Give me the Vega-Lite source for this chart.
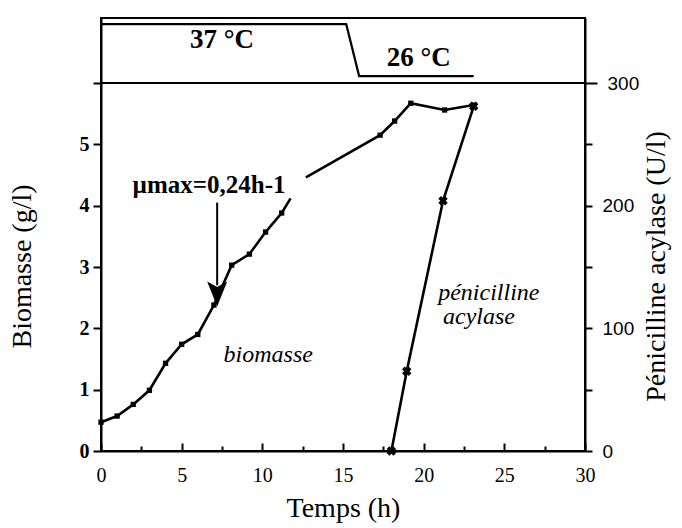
{
  "$schema": "https://vega.github.io/schema/vega-lite/v6.json",
  "width": 484,
  "height": 433,
  "autosize": "none",
  "padding": {"left": 101, "top": 18, "right": 97, "bottom": 77},
  "background": "white",
  "config": {
    "view": {"stroke": "black", "strokeWidth": 2},
    "font": "Liberation Serif",
    "axis": {"domainColor": "black", "domainWidth": 2, "tickColor": "black", "tickWidth": 2, "labelColor": "black", "titleColor": "black", "grid": false, "titleFontWeight": "normal", "zindex": 1}
  },
  "datasets": {
    "biomasse": [
      {"t": 0, "biomasse": 0.47, "seg": "a", "mesure": true},
      {"t": 1, "biomasse": 0.57, "seg": "a", "mesure": true},
      {"t": 2, "biomasse": 0.76, "seg": "a", "mesure": true},
      {"t": 3, "biomasse": 0.99, "seg": "a", "mesure": true},
      {"t": 4, "biomasse": 1.43, "seg": "a", "mesure": true},
      {"t": 5, "biomasse": 1.74, "seg": "a", "mesure": true},
      {"t": 6, "biomasse": 1.9, "seg": "a", "mesure": true},
      {"t": 7, "biomasse": 2.38, "seg": "a", "mesure": true},
      {"t": 8.1, "biomasse": 3.03, "seg": "a", "mesure": true},
      {"t": 9.2, "biomasse": 3.21, "seg": "a", "mesure": true},
      {"t": 10.2, "biomasse": 3.57, "seg": "a", "mesure": true},
      {"t": 11.2, "biomasse": 3.88, "seg": "a", "mesure": true},
      {"t": 11.75, "biomasse": 4.12, "seg": "a", "mesure": false},
      {"t": 12.7, "biomasse": 4.46, "seg": "b", "mesure": false},
      {"t": 17.3, "biomasse": 5.15, "seg": "b", "mesure": true},
      {"t": 18.2, "biomasse": 5.38, "seg": "b", "mesure": true},
      {"t": 19.2, "biomasse": 5.67, "seg": "b", "mesure": true},
      {"t": 21.3, "biomasse": 5.56, "seg": "b", "mesure": true},
      {"t": 23.1, "biomasse": 5.64, "seg": "b", "mesure": true}
    ],
    "acylase": [
      {"t": 18.0, "acylase": 0},
      {"t": 18.95, "acylase": 65},
      {"t": 21.2, "acylase": 204},
      {"t": 23.1, "acylase": 281}
    ],
    "temperature": [
      {"t": 0, "temperature": 37},
      {"t": 15.2, "temperature": 37},
      {"t": 16.0, "temperature": 26},
      {"t": 23.1, "temperature": 26}
    ],
    "tempLabels": [
      {"t": 7.5, "temperature": 37, "label": "37 °C", "niveau": "haut"},
      {"t": 19.7, "temperature": 26, "label": "26 °C", "niveau": "bas"}
    ],
    "notes": [
      {"t": 6.7, "biomasse": 4.33, "label": "µmax=0,24h-1", "kind": "mu"},
      {"t": 7.6, "biomasse": 1.57, "label": "biomasse", "kind": "italique"},
      {"t": 20.9, "biomasse": 2.57, "label": "pénicilline", "kind": "italique"},
      {"t": 21.2, "biomasse": 2.18, "label": "acylase", "kind": "italique"}
    ],
    "fleche": [
      {"t": 7.2, "haut": 4.05, "bas": 2.7, "pointe": 2.56}
    ]
  },
  "layer": [
    {
      "layer": [
        {
          "data": {"name": "biomasse"},
          "mark": {"type": "line", "color": "black", "strokeWidth": 2.6},
          "encoding": {
            "x": {"field": "t", "type": "quantitative", "scale": {"domain": [0, 30], "nice": false},
              "axis": {"title": "Temps (h)", "values": [0, 2.5, 5, 7.5, 10, 12.5, 15, 17.5, 20, 22.5, 25, 27.5, 30],
                "labelExpr": "datum.value % 5 === 0 ? datum.label : ''",
                "tickSize": {"condition": {"test": "datum.value % 5 === 0", "value": -8}, "value": -5},
                "labelPadding": 22, "labelFontSize": 20, "titleFontSize": 28, "titleX": 242, "titleY": 57, "titleBaseline": "middle", "labelFlush": false}},
            "y": {"field": "biomasse", "type": "quantitative", "scale": {"domain": [0, 7.06], "nice": false, "zero": false},
              "axis": {"title": "Biomasse (g/l)", "orient": "left", "values": [0, 0.5, 1, 1.5, 2, 2.5, 3, 3.5, 4, 4.5, 5, 5.5, 6],
                "format": "d",
                "labelExpr": "datum.value % 1 === 0 && datum.value < 6 ? format(datum.value, 'd') : ''",
                "tickSize": {"condition": {"test": "datum.value % 1 === 0", "value": 8}, "value": 5},
                "labelPadding": 4, "labelFontSize": 20, "labelFontWeight": "bold", "titleFontSize": 28, "titleX": -79, "titleY": 248, "titleBaseline": "middle", "labelFlush": false}},
            "detail": {"field": "seg"}
          }
        },
        {
          "data": {"values": [{"niveau": 6}]},
          "mark": {"type": "rule", "color": "black", "strokeWidth": 2},
          "encoding": {"y": {"field": "niveau", "type": "quantitative"}}
        },
        {
          "data": {"name": "biomasse"},
          "transform": [{"filter": "datum.mesure"}],
          "mark": {"type": "point", "shape": "square", "filled": true, "color": "black", "size": 28, "opacity": 1},
          "encoding": {
            "x": {"field": "t", "type": "quantitative"},
            "y": {"field": "biomasse", "type": "quantitative"}
          }
        },
        {
          "data": {"name": "fleche"},
          "mark": {"type": "rule", "color": "black", "strokeWidth": 2},
          "encoding": {
            "x": {"field": "t", "type": "quantitative"},
            "y": {"field": "haut", "type": "quantitative"},
            "y2": {"field": "bas"}
          }
        },
        {
          "data": {"name": "fleche"},
          "mark": {"type": "point", "shape": "M-0.8,-1L0,-0.55L0.8,-1L0,1Z", "filled": true, "color": "black", "size": 625, "opacity": 1},
          "encoding": {
            "x": {"field": "t", "type": "quantitative"},
            "y": {"field": "pointe", "type": "quantitative"}
          }
        },
        {
          "data": {"name": "notes"},
          "transform": [{"filter": "datum.kind === 'mu'"}],
          "mark": {"type": "text", "font": "Liberation Serif", "fontSize": 25, "fontWeight": "bold", "align": "center", "baseline": "middle", "color": "black"},
          "encoding": {
            "x": {"field": "t", "type": "quantitative"},
            "y": {"field": "biomasse", "type": "quantitative"},
            "text": {"field": "label"}
          }
        },
        {
          "data": {"name": "notes"},
          "transform": [{"filter": "datum.kind === 'italique'"}],
          "mark": {"type": "text", "font": "Liberation Serif", "fontSize": 24, "fontStyle": "italic", "align": "left", "baseline": "middle", "color": "black"},
          "encoding": {
            "x": {"field": "t", "type": "quantitative"},
            "y": {"field": "biomasse", "type": "quantitative"},
            "text": {"field": "label"}
          }
        }
      ]
    },
    {
      "data": {"name": "acylase"},
      "layer": [
        {
          "mark": {"type": "line", "color": "black", "strokeWidth": 2.6},
          "encoding": {
            "x": {"field": "t", "type": "quantitative"},
            "y": {"field": "acylase", "type": "quantitative", "scale": {"domain": [0, 353], "nice": false, "zero": false},
              "axis": {"title": "Pénicilline acylase (U/l)", "orient": "right", "values": [0, 50, 100, 150, 200, 250, 300],
                "labelExpr": "datum.value % 100 === 0 ? datum.label : ''",
                "tickSize": {"condition": {"test": "datum.value === 300", "value": 12}, "value": 7},
                "labelPadding": 10, "labelFont": "Liberation Sans", "labelFontSize": 19, "titleFontSize": 28, "titleAngle": 270, "titleX": 71, "titleY": 248, "titleBaseline": "middle", "labelFlush": false}}
          }
        },
        {
          "mark": {"type": "point", "shape": "cross", "angle": 45, "filled": true, "color": "black", "size": 90, "opacity": 1},
          "encoding": {
            "x": {"field": "t", "type": "quantitative"},
            "y": {"field": "acylase", "type": "quantitative"}
          }
        }
      ]
    },
    {
      "layer": [
        {
          "data": {"name": "temperature"},
          "mark": {"type": "line", "color": "black", "strokeWidth": 2.2},
          "encoding": {
            "x": {"field": "t", "type": "quantitative"},
            "y": {"field": "temperature", "type": "quantitative", "scale": {"domain": [-53.4, 38.3], "nice": false, "zero": false}, "axis": null}
          }
        },
        {
          "data": {"name": "tempLabels"},
          "transform": [{"filter": "datum.niveau === 'haut'"}],
          "mark": {"type": "text", "font": "Liberation Serif", "fontSize": 27, "fontWeight": "bold", "align": "center", "baseline": "middle", "dy": 16, "color": "black"},
          "encoding": {
            "x": {"field": "t", "type": "quantitative"},
            "y": {"field": "temperature", "type": "quantitative"},
            "text": {"field": "label"}
          }
        },
        {
          "data": {"name": "tempLabels"},
          "transform": [{"filter": "datum.niveau === 'bas'"}],
          "mark": {"type": "text", "font": "Liberation Serif", "fontSize": 27, "fontWeight": "bold", "align": "center", "baseline": "middle", "dy": -18, "color": "black"},
          "encoding": {
            "x": {"field": "t", "type": "quantitative"},
            "y": {"field": "temperature", "type": "quantitative"},
            "text": {"field": "label"}
          }
        }
      ]
    }
  ],
  "resolve": {"scale": {"y": "independent"}}
}
